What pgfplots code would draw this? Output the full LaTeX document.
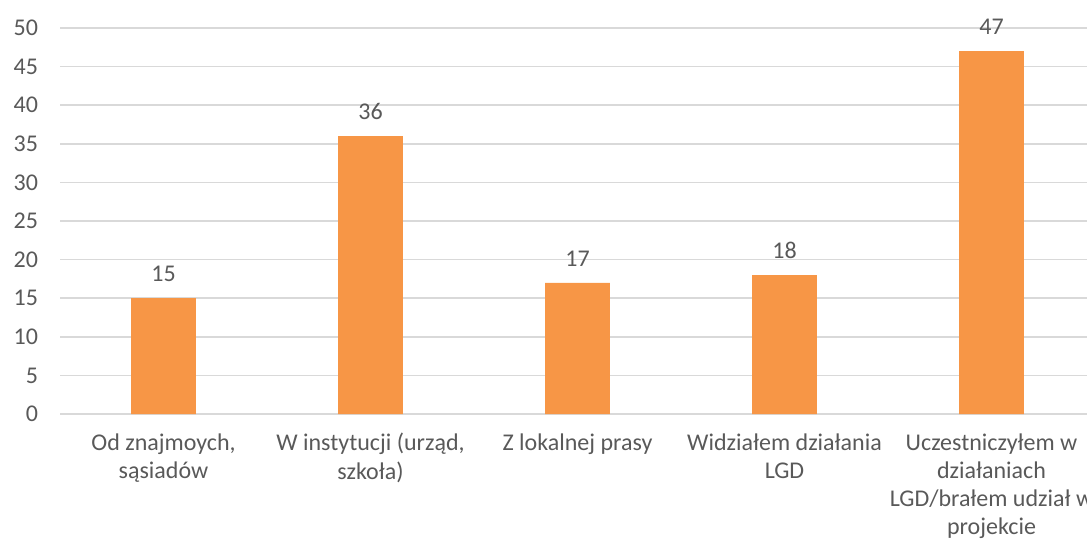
\documentclass[border=0pt]{standalone}
\usepackage{fontspec}
\setmainfont{Carlito}
\usepackage{pgfplots}
\pgfplotsset{compat=1.18}
\definecolor{barorange}{HTML}{F79646}
\definecolor{txtgray}{HTML}{595959}
\definecolor{gridgray}{HTML}{D9D9D9}
\begin{document}
\begin{tikzpicture}
\begin{axis}[
  scale only axis,
  width=776.25pt, height=289.5pt,
  xmin=-0.5, xmax=4.5,
  ymin=0, ymax=50,
  ytick={0,5,...,50},
  xtick={0,1,2,3,4},
  xticklabels={{Od znajmoych,\\sąsiadów},{W instytucji (urząd,\\szkoła)},{Z lokalnej prasy},{Widziałem działania\\LGD},{Uczestniczyłem w\\działaniach\\LGD/brałem udział w\\projekcie}},
  x tick label style={align=center, yshift=-11pt},
  y tick label style={xshift=-13pt},
  /pgf/number format/assume math mode=true,
  ticklabel style={text=txtgray, font=\fontsize{18}{21.2}\selectfont},
  axis line style={draw=none},
  major tick length=0pt,
  ymajorgrids,
  grid style={gridgray, line width=1.1pt},
  ybar, bar width=48.5pt,
  nodes near coords,
  nodes near coords style={text=txtgray, font=\fontsize{18}{21.2}\selectfont, yshift=9pt},
  clip=false,
]
\addplot[fill=barorange, draw=none] coordinates {(0,15) (1,36) (2,17) (3,18) (4,47)};
\coordinate (o) at (rel axis cs:0,0);
\end{axis}
\pgfresetboundingbox
\path ([xshift=-45pt,yshift=-96pt]o) rectangle ([xshift=770.25pt,yshift=310.5pt]o);
\end{tikzpicture}
\end{document}
